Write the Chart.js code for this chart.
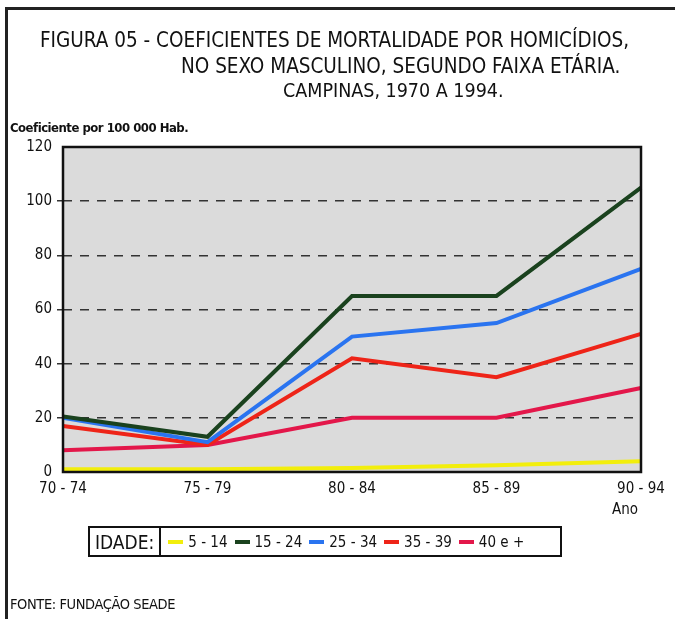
<!DOCTYPE html>
<html>
<head>
<meta charset="utf-8">
<script src="https://cdn.jsdelivr.net/npm/chart.js@4/dist/chart.umd.min.js"></script>
<style>
  body { margin: 0; background: #fff; }
  #wrap { position: relative; width: 675px; height: 619px; overflow: hidden;
          font-family: 'Liberation Sans Narrow', 'DejaVu Sans Condensed', 'Liberation Sans', sans-serif; color: #111; }
  #frame { position: absolute; left: 5px; top: 7px; width: 700px; height: 700px;
           border-left: 3px solid #222; border-top: 3px solid #222; }
  canvas { position: absolute; left: 0; top: 0; }
  .t { position: absolute; white-space: nowrap; }
  #title1 { left: 40px; top: 28px; font-size: 20.5px; }
  #title2 { left: 181px; top: 54px; font-size: 20.5px; }
  #title3 { left: 283px; top: 79px; font-size: 19.5px; }
  #ylab { left: 10px; top: 120px; font-size: 13px; letter-spacing: -0.5px; font-weight: bold; }
  #ano { left: 612px; top: 500px; font-size: 15px; }
  #fonte { left: 10px; top: 596px; font-size: 14.5px; letter-spacing: -0.4px; }
  #legend { position: absolute; left: 88px; top: 526px; height: 27px; width: 470px;
            border: 2px solid #111; display: flex; align-items: center; font-size: 15px; }
  #legend .head { height: 100%; border-right: 2px solid #111; padding: 0 5px; font-size: 19px;
                  display: flex; align-items: center; }
  #legend .item { display: flex; align-items: center; margin-left: 7px; }
  #legend .sw { width: 15px; height: 4px; margin-right: 5px; }
</style>
</head>
<body>
<div id="wrap">
  <div id="frame"></div>
  <canvas id="chart" width="675" height="619"></canvas>
  <div class="t" id="title1">FIGURA 05 - COEFICIENTES DE MORTALIDADE POR HOMICÍDIOS,</div>
  <div class="t" id="title2">NO SEXO MASCULINO, SEGUNDO FAIXA ETÁRIA.</div>
  <div class="t" id="title3">CAMPINAS, 1970 A 1994.</div>
  <div class="t" id="ylab">Coeficiente por 100 000 Hab.</div>
  <div class="t" id="ano">Ano</div>
  <div id="legend"><div class="head">IDADE:</div></div>
  <div class="t" id="fonte">FONTE: FUNDAÇÃO SEADE</div>
</div>
<script>
'use strict'

const periodos = ['70 - 74', '75 - 79', '80 - 84', '85 - 89', '90 - 94'];
const idade5a14 = [1, 1, 1.5, 2.5, 4];
const idade15a24 = [20.5, 13, 65, 65, 105];
const idade25a34 = [20, 11, 50, 55, 75];
const idade35a39 = [17, 10, 42, 35, 51];
const idade40mais = [8, 10, 20, 20, 31];
const yTicks = [0, 20, 40, 60, 80, 100, 120];

function serie(label, data, color) {
    return {
        label: label,
        data: data,
        borderColor: color,
        backgroundColor: color,
        borderWidth: 4,
        pointRadius: 0,
        fill: false,
        tension: 0
    };
}

const plotFrame = {
    id: 'plotFrame',
    beforeDraw(chart) {
        const a = chart.chartArea;
        const c = chart.ctx;
        c.save();
        c.fillStyle = '#dbdbdb';
        c.fillRect(a.left, a.top, a.right - a.left, a.bottom - a.top);
        c.restore();
    },
    afterDraw(chart) {
        const a = chart.chartArea;
        const c = chart.ctx;
        c.save();
        c.strokeStyle = '#111';
        c.lineWidth = 2.5;
        c.strokeRect(a.left, a.top, a.right - a.left, a.bottom - a.top);
        c.restore();
    }
};

const tickFont = { family: "'Liberation Sans Narrow', 'DejaVu Sans Condensed', sans-serif", size: 15 };

const ctx = document.getElementById('chart').getContext('2d');
const chart = new Chart(ctx, {
    type: 'line',
    data: {
        labels: periodos,
        datasets: [
            serie('5 - 14', idade5a14, '#f2ee0c'),
            serie('15 - 24', idade15a24, '#1a421e'),
            serie('25 - 34', idade25a34, '#2a74f0'),
            serie('35 - 39', idade35a39, '#ee2418'),
            serie('40 e +', idade40mais, '#e3174a')
        ]
    },
    options: {
        responsive: false,
        animation: false,
        layout: { padding: { left: 20, right: 34, top: 147, bottom: 117 } },
        plugins: {
            legend: { display: false },
            tooltip: { enabled: false }
        },
        scales: {
            x: {
                offset: false,
                grid: { display: false },
                border: { display: false },
                ticks: { color: '#111', padding: 0, maxRotation: 0, font: tickFont },
                afterFit(scale) { scale.height = 30; }
            },
            y: {
                min: 0,
                max: 120,
                afterBuildTicks(scale) { scale.ticks = yTicks.map(v => ({ value: v })); },
                grid: {
                    color: c => (c.tick && (c.tick.value === 0 || c.tick.value === 120)) ? 'rgba(0,0,0,0)' : '#333',
                    lineWidth: 1.5,
                    drawTicks: true,
                    tickLength: 6
                },
                border: { display: false, dash: [9, 8] },
                ticks: { color: '#111', padding: 5, font: tickFont },
                afterFit(scale) { scale.width = 43; }
            }
        }
    },
    plugins: [plotFrame]
});

// legenda em HTML
const legend = document.getElementById('legend');
chart.data.datasets.forEach(ds => {
    const item = document.createElement('div');
    item.className = 'item';
    item.innerHTML = '<span class="sw" style="background:' + ds.borderColor + '"></span>' + ds.label;
    legend.appendChild(item);
});
</script>
</body>
</html>
